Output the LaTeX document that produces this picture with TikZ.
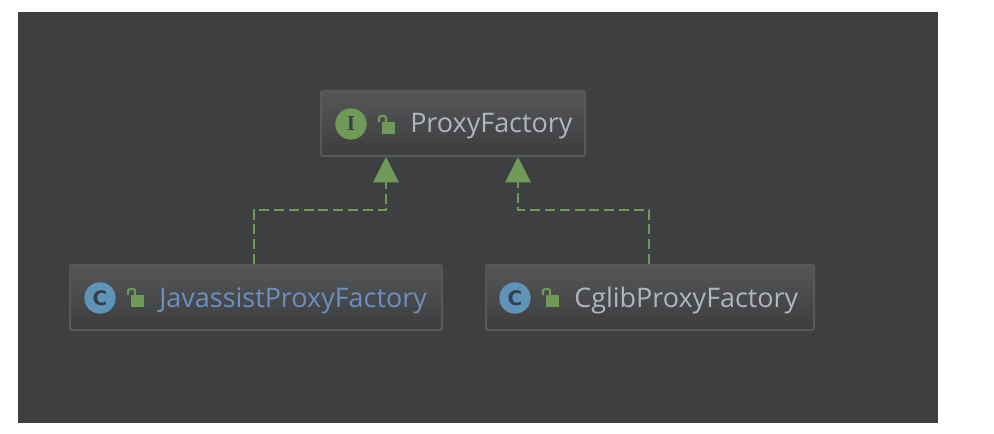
\documentclass[tikz,border=0pt]{standalone}
\usepackage{fontspec}
\setmainfont{Open Sans}
\newfontfamily\badgefont{Liberation Serif}
\newfontfamily\badgesans{DejaVu Sans}
\usetikzlibrary{arrows.meta,calc}
\definecolor{panel}{HTML}{3E3F41}
\definecolor{boxtop}{HTML}{545658}
\definecolor{boxbot}{HTML}{3D3D3E}
\definecolor{boxline}{HTML}{56585A}
\definecolor{implgreen}{HTML}{6F9A58}
\definecolor{ifacegreen}{HTML}{6F9A58}
\definecolor{classblue}{HTML}{5E94B8}
\definecolor{icondark}{HTML}{33414A}
\definecolor{namegrey}{HTML}{B0B6BC}
\definecolor{nameblue}{HTML}{6B8FC0}
\tikzset{
  x=0.75pt,y=-0.75pt,
  classbox/.style={draw=boxline,line width=1.5pt,rounded corners=1.5pt,top color=boxtop,bottom color=boxbot,minimum height=48.75pt,inner sep=0pt,anchor=north west},
  badge/.style={circle,minimum size=23.5pt,inner sep=0pt,text=icondark},
  ifacebadge/.style={badge,fill=ifacegreen,font=\fontsize{16pt}{16pt}\badgefont\bfseries},
  classbadge/.style={badge,fill=classblue,font=\fontsize{15pt}{15pt}\badgesans\bfseries},
  namelabel/.style={anchor=base west,inner sep=0pt,font=\fontsize{20.2pt}{21pt}\selectfont},
  impl/.style={draw=implgreen,line width=1.6pt,dash pattern=on 7.5pt off 3.6pt,-{Triangle[length=19pt,width=19pt,fill=implgreen]}},
  lockbody/.style={fill=implgreen,draw=none},
  lockshackle/.style={draw=implgreen,line width=1.6pt,fill=none,rounded corners=1.5pt},
}
\newcommand{\lockicon}[2]{%
  \fill[lockbody] (#1+4,#2+6) rectangle (#1+17,#2+18);
  \draw[lockshackle] (#1+1,#2+6) -- (#1+1,#2+0) -- (#1+8,#2+0) -- (#1+8,#2+6);
}
\begin{document}
\begin{tikzpicture}
\useasboundingbox (0,0) rectangle (994,434);
\fill[white] (0,0) rectangle (994,434);
\fill[panel] (18,12) rectangle (938,423);

\node[classbox,minimum width=198pt] (proxy) at (320,90) {};
\node[classbox,minimum width=279pt] (jav) at (69,264) {};
\node[classbox,minimum width=246pt] (cglib) at (485,264) {};

\node[ifacebadge] (ibadge) at (351,124) {I};
\node[classbadge] (cbadgea) at (100,298) {C};
\node[classbadge] (cbadgeb) at (515,298) {C};

\lockicon{378}{116}
\lockicon{127}{289}
\lockicon{542}{289}

\node[namelabel,text=namegrey] (proxyname) at (410,133) {ProxyFactory};
\node[namelabel,text=nameblue] (javname) at (159,307) {JavassistProxyFactory};
\node[namelabel,text=namegrey] (cglibname) at (574,307) {CglibProxyFactory};

\coordinate (ja) at (254,264);
\coordinate (jb) at (386,157);
\coordinate (ca) at (649,264);
\coordinate (cb) at (518,157);
\draw[impl] (ja) -- (254,210) -- (386,210) -- (jb);
\draw[impl] (ca) -- (649,210) -- (518,210) -- (cb);
\end{tikzpicture}
\end{document}
